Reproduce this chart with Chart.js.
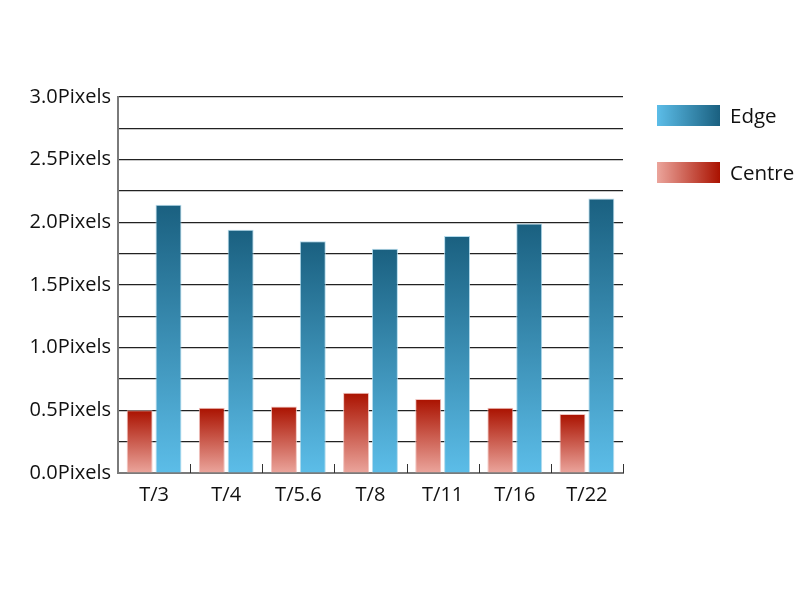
<!DOCTYPE html>
<html>
<head>
<meta charset="utf-8">
<script src="https://cdn.jsdelivr.net/npm/chart.js@4/dist/chart.umd.min.js"></script>
<style>
  html, body { margin: 0; padding: 0; background: #fff; }
  #wrap { position: relative; width: 800px; height: 600px; }
  .legend-item { position: absolute; left: 657px; font-family: "Open Sans", sans-serif; font-size: 20.5px; color: #111; }
  .legend-box { position: absolute; left: 0; top: 0; width: 63px; height: 21px; }
  .legend-text { position: absolute; left: 73px; top: -4px; white-space: nowrap; }
</style>
</head>
<body>
<div id="wrap">
  <canvas id="chart" width="800" height="600"></canvas>
  <div class="legend-item" style="top:105px">
    <div class="legend-box" style="background:linear-gradient(to right,#5cbde8,#1a6080)"></div>
    <div class="legend-text">Edge</div>
  </div>
  <div class="legend-item" style="top:162px">
    <div class="legend-box" style="background:linear-gradient(to right,#eba59c,#aa1200)"></div>
    <div class="legend-text">Centre</div>
  </div>
</div>
<script>
const apertures = ["T/3", "T/4", "T/5.6", "T/8", "T/11", "T/16", "T/22"];
const centreValues = [0.50, 0.52, 0.53, 0.64, 0.59, 0.52, 0.47];
const edgeValues = [2.14, 1.94, 1.85, 1.79, 1.89, 1.99, 2.19];
const yMax = 3.0;
const yStep = 0.25;

// vertical gradient from the bar's base up to its top
function barGradient(bottomColor, topColor) {
    return (ctx) => {
        const chart = ctx.chart;
        if (ctx.type !== "data" || !chart.chartArea) return topColor;
        const y = chart.scales.y;
        const top = y.getPixelForValue(ctx.parsed.y);
        const base = y.getPixelForValue(0);
        const g = chart.ctx.createLinearGradient(0, base, 0, top);
        g.addColorStop(0, bottomColor);
        g.addColorStop(1, topColor);
        return g;
    };
}

// small ticks pointing up from the x axis, between the categories
const categoryTicks = {
    id: "categoryTicks",
    afterDatasetsDraw(chart) {
        const x = chart.scales.x;
        const area = chart.chartArea;
        const c = chart.ctx;
        c.save();
        c.strokeStyle = "#333";
        c.lineWidth = 1;
        for (let i = 0; i < apertures.length; i++) {
            const px = i < apertures.length - 1
                ? (x.getPixelForValue(i) + x.getPixelForValue(i + 1)) / 2
                : area.right;
            c.beginPath();
            c.moveTo(Math.round(px) + 0.5, area.bottom);
            c.lineTo(Math.round(px) + 0.5, area.bottom - 9);
            c.stroke();
        }
        c.restore();
    }
};

const ctx = document.getElementById("chart").getContext("2d");

new Chart(ctx, {
    type: "bar",
    data: {
        labels: apertures,
        datasets: [
            {
                label: "Centre",
                data: centreValues,
                backgroundColor: barGradient("#eba59c", "#aa1200"),
                borderColor: "rgba(240,190,185,0.9)",
                borderWidth: 1,
            },
            {
                label: "Edge",
                data: edgeValues,
                backgroundColor: barGradient("#5cbde8", "#1a6080"),
                borderColor: "rgba(170,215,235,0.9)",
                borderWidth: 1,
            },
        ],
    },
    options: {
        responsive: false,
        animation: false,
        categoryPercentage: 0.8,
        barPercentage: 0.9,
        layout: {
            padding: { top: 97, right: 177, bottom: 0, left: 0 },
        },
        plugins: {
            legend: { display: false },
            tooltip: { enabled: false },
        },
        scales: {
            x: {
                afterFit: (scale) => { scale.height = 127; },
                grid: { display: false },
                border: { display: true, color: "#7a7a7a", width: 2 },
                ticks: {
                    color: "#111",
                    padding: 2,
                    font: { family: "Open Sans", size: 20 },
                },
            },
            y: {
                min: 0,
                max: yMax,
                afterFit: (scale) => { scale.width = 118; },
                grid: {
                    color: "#222",
                    lineWidth: 1.2,
                    drawTicks: false,
                },
                border: { display: true, color: "#7a7a7a", width: 2 },
                ticks: {
                    stepSize: yStep,
                    padding: 7,
                    color: "#111",
                    font: { family: "Open Sans", size: 20 },
                    callback: (v) => (Math.round(v * 100) % 50 === 0 ? v.toFixed(1) + "Pixels" : ""),
                },
            },
        },
    },
    plugins: [categoryTicks],
});
</script>
</body>
</html>
